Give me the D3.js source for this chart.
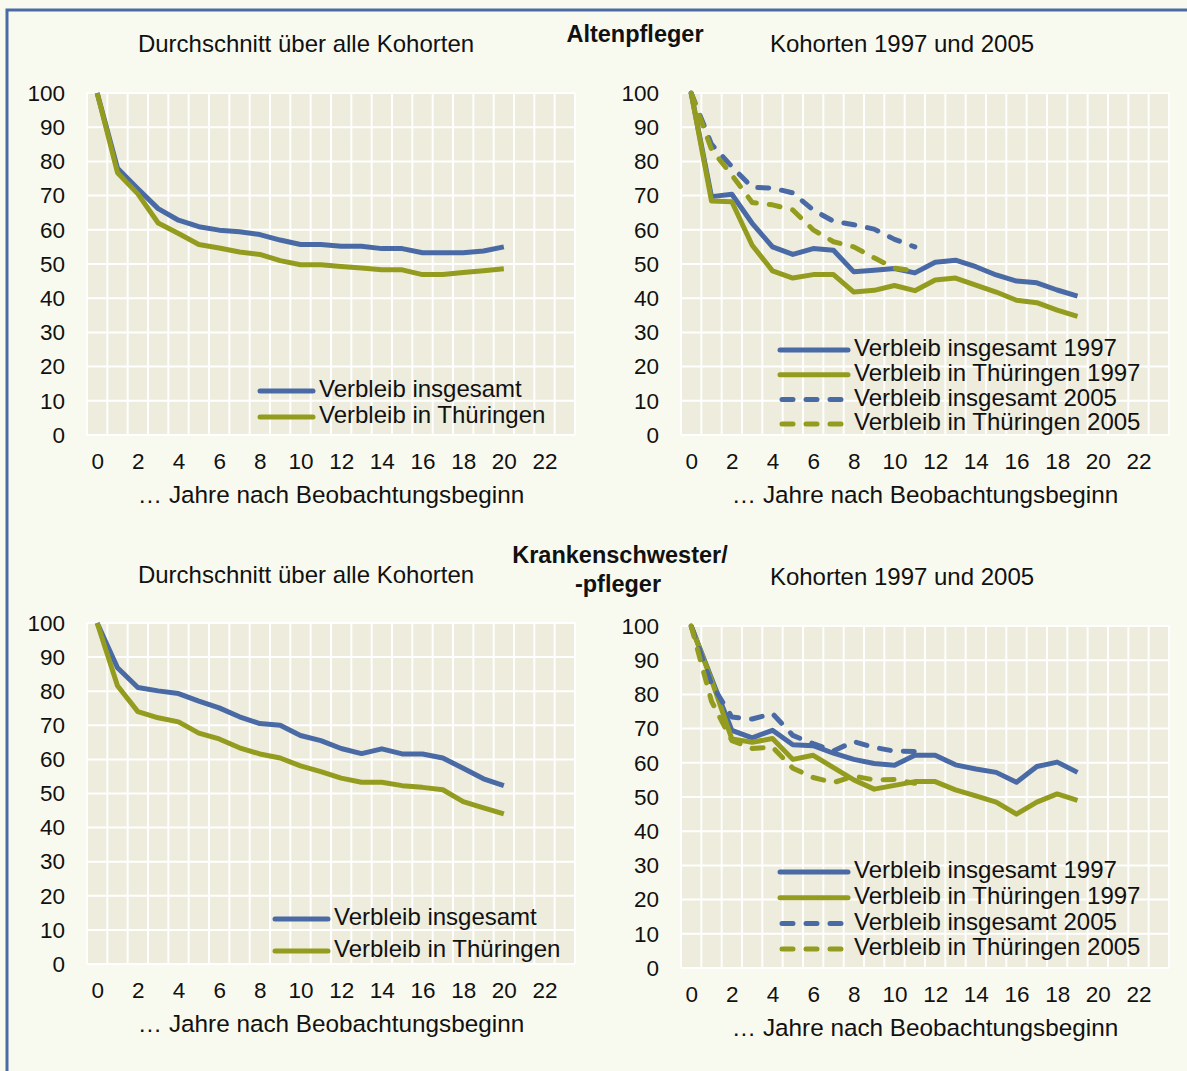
<!DOCTYPE html>
<html>
<head>
<meta charset="utf-8">
<script src="https://cdn.jsdelivr.net/npm/d3@7"></script>
<style>
  body { margin: 0; background: #f9faef; }
  text { font-family: "Liberation Sans", Arial, sans-serif; fill: #111; }
</style>
</head>
<body>
<div class="canvas"></div>
<script>
// ---- data ----
const yTicks = [0, 10, 20, 30, 40, 50, 60, 70, 80, 90, 100];
const xTicks = [0, 2, 4, 6, 8, 10, 12, 14, 16, 18, 20, 22];

// Altenpfleger, average over all cohorts (years 0..20)
const altInsg = [100, 78, 72, 66.2, 62.8, 60.9, 59.9, 59.4, 58.6, 57, 55.7, 55.7, 55.2, 55.2, 54.5, 54.5, 53.3, 53.3, 53.3, 53.8, 55];
const altThue = [100, 76.7, 70.5, 62, 58.9, 55.7, 54.7, 53.5, 52.8, 51, 49.8, 49.8, 49.3, 48.8, 48.3, 48.3, 46.9, 46.9, 47.5, 48, 48.6];
// Altenpfleger, cohorts 1997 (0..19) and 2005 (0..11)
const altInsg1997 = [100, 69.7, 70.4, 61.9, 55, 52.8, 54.5, 54, 47.7, 48.2, 48.7, 47.4, 50.5, 51.1, 49.2, 46.8, 45, 44.5, 42.4, 40.6];
const altThue1997 = [100, 68.4, 68.2, 55.5, 48, 45.9, 46.9, 46.9, 41.8, 42.3, 43.7, 42.2, 45.3, 45.9, 43.8, 41.8, 39.4, 38.7, 36.5, 34.7];
const altInsg2005 = [100, 85, 78.5, 72.4, 72.2, 70.8, 65.8, 62.5, 61.5, 60.2, 57.2, 55];
const altThue2005 = [100, 83.5, 76, 68, 67.3, 65.8, 60, 56.5, 55, 51.8, 48.8, 48];

// Krankenschwester/-pfleger, average over all cohorts (0..20)
const kraInsg = [100, 86.9, 81.1, 80.1, 79.3, 77.1, 75.1, 72.5, 70.5, 70, 67, 65.5, 63.2, 61.7, 63.1, 61.6, 61.6, 60.4, 57.4, 54.3, 52.3];
const kraThue = [100, 81.6, 74, 72.2, 71, 67.7, 66, 63.4, 61.6, 60.4, 58.1, 56.4, 54.5, 53.3, 53.3, 52.3, 51.8, 51.1, 47.6, 45.8, 44];
// Krankenschwester/-pfleger, cohorts 1997 and 2005
const kraInsg1997 = [100, 84.7, 69.5, 67.3, 69.5, 65.3, 65, 62.8, 61, 59.8, 59.3, 62.2, 62.2, 59.4, 58.2, 57.2, 54.3, 58.9, 60.2, 57.2];
const kraThue1997 = [100, 84.2, 67, 66, 67.1, 61, 62.2, 58.6, 55, 52.3, 53.4, 54.5, 54.5, 52.1, 50.3, 48.5, 45, 48.5, 50.9, 49];
const kraInsg2005 = [100, 83, 73.4, 72.8, 74.4, 68, 65.6, 63.5, 66.2, 64.5, 63.4, 63.3];
const kraThue2005 = [100, 78, 66.5, 64.2, 64.6, 58.4, 55.7, 54.2, 56.1, 55, 55.1, 54];

const labInsg = 'Verbleib insgesamt';
const labThue = 'Verbleib in Thüringen';

// ---- styling ----
const blue = '#4a6aa6';
const green = '#939c1e';
const dash = '11,13';

const svg = d3.select('.canvas')
  .append('svg')
  .attr('width', 1187)
  .attr('height', 1071);

svg.append('rect').attr('width', 1187).attr('height', 1071).attr('fill', '#f9faef');
// frame (only top and left edges are visible)
svg.append('path')
  .attr('d', 'M7,1071 V10 H1187')
  .attr('fill', 'none')
  .attr('stroke', blue)
  .attr('stroke-width', 3);

const drawPanel = (p) => {
  const w = 488, h = p.h;
  const g = svg.append('g').attr('transform', `translate(${p.x}, ${p.y})`);

  const x = d3.scaleLinear().domain([-0.5, 23.5]).range([0, w]);
  const y = d3.scaleLinear().domain([0, 100]).range([h, 0]);

  g.append('rect').attr('width', w).attr('height', h).attr('fill', '#eeecdc');

  // grid
  g.selectAll('line.vg')
    .data(d3.range(-0.5, 24, 1))
    .enter().append('line')
      .attr('x1', d => x(d)).attr('x2', d => x(d))
      .attr('y1', 0).attr('y2', h)
      .attr('stroke', '#fff').attr('stroke-width', 2);
  g.selectAll('line.hg')
    .data(yTicks)
    .enter().append('line')
      .attr('x1', 0).attr('x2', w)
      .attr('y1', d => y(d)).attr('y2', d => y(d))
      .attr('stroke', '#fff').attr('stroke-width', 2);

  // axes
  const ax = g.append('g')
    .attr('transform', `translate(0, ${h + 18})`)
    .call(d3.axisBottom(x).tickValues(xTicks).tickSize(0).tickPadding(0));
  ax.select('.domain').remove();
  ax.selectAll('text').attr('font-size', 22.5).attr('dy', '0.71em').style('font-family', 'Liberation Sans');

  const ay = g.append('g')
    .attr('transform', 'translate(-22, 0)')
    .call(d3.axisLeft(y).tickValues(yTicks).tickSize(0).tickPadding(0));
  ay.select('.domain').remove();
  ay.selectAll('text').attr('font-size', 22.5).style('font-family', 'Liberation Sans');

  g.append('text')
    .attr('x', w / 2).attr('y', h + 62)
    .attr('text-anchor', 'middle').attr('dominant-baseline', 'middle')
    .attr('font-size', 24.3)
    .text('… Jahre nach Beobachtungsbeginn');

  // lines
  const line = d3.line().x((d, i) => x(i)).y(d => y(d));
  p.series.forEach(s => {
    g.append('path')
      .attr('d', line(s.values))
      .attr('fill', 'none')
      .attr('stroke', s.color)
      .attr('stroke-width', 5)
      .attr('stroke-linejoin', 'round')
      .attr('stroke-linecap', s.dashed ? 'round' : 'butt')
      .attr('stroke-dasharray', s.dashed ? dash : null);
  });

  // legend
  const lg = svg.append('g').attr('transform', `translate(${p.lx}, ${p.ly})`);
  p.series.forEach((s, i) => {
    const row = lg.append('g').attr('transform', `translate(0, ${i * p.lstep})`);
    row.append('line')
      .attr('x1', s.dashed ? 2 : 0).attr('x2', p.lw - (s.dashed ? 2 : 0))
      .attr('stroke', s.color).attr('stroke-width', 5)
      .attr('stroke-linecap', 'round')
      .attr('stroke-dasharray', s.dashed ? dash : null);
    row.append('text')
      .attr('x', p.lw + 6)
      .attr('dominant-baseline', 'middle')
      .attr('font-size', 24)
      .text(s.name);
  });

  svg.append('text')
    .attr('x', p.tx).attr('y', p.ty)
    .attr('text-anchor', 'middle').attr('dominant-baseline', 'middle')
    .attr('font-size', 24)
    .text(p.title);
};

drawPanel({
  x: 87, y: 93, h: 342, title: 'Durchschnitt über alle Kohorten', tx: 306, ty: 46,
  lx: 260, ly: 391, lstep: 26, lw: 53,
  series: [
    { name: labInsg, values: altInsg, color: blue },
    { name: labThue, values: altThue, color: green }
  ]
});
drawPanel({
  x: 681, y: 93, h: 342, title: 'Kohorten 1997 und 2005', tx: 902, ty: 46,
  lx: 780, ly: 350, lstep: 24.7, lw: 68,
  series: [
    { name: labInsg + ' 1997', values: altInsg1997, color: blue },
    { name: labThue + ' 1997', values: altThue1997, color: green },
    { name: labInsg + ' 2005', values: altInsg2005, color: blue, dashed: true },
    { name: labThue + ' 2005', values: altThue2005, color: green, dashed: true }
  ]
});
drawPanel({
  x: 87, y: 623, h: 341, title: 'Durchschnitt über alle Kohorten', tx: 306, ty: 577,
  lx: 275, ly: 919, lstep: 32, lw: 53,
  series: [
    { name: labInsg, values: kraInsg, color: blue },
    { name: labThue, values: kraThue, color: green }
  ]
});
drawPanel({
  x: 681, y: 626, h: 342, title: 'Kohorten 1997 und 2005', tx: 902, ty: 579,
  lx: 780, ly: 872, lstep: 25.7, lw: 68,
  series: [
    { name: labInsg + ' 1997', values: kraInsg1997, color: blue },
    { name: labThue + ' 1997', values: kraThue1997, color: green },
    { name: labInsg + ' 2005', values: kraInsg2005, color: blue, dashed: true },
    { name: labThue + ' 2005', values: kraThue2005, color: green, dashed: true }
  ]
});

// occupation headings
const heads = [
  { t: 'Altenpfleger', x: 635, y: 36 },
  { t: 'Krankenschwester/', x: 620, y: 557 },
  { t: '-pfleger', x: 618, y: 586 }
];
svg.selectAll('text.head')
  .data(heads)
  .enter().append('text')
    .attr('class', 'head')
    .attr('x', d => d.x).attr('y', d => d.y)
    .attr('text-anchor', 'middle').attr('dominant-baseline', 'middle')
    .attr('font-size', 23.5).attr('font-weight', 'bold')
    .text(d => d.t);
</script>
</body>
</html>
